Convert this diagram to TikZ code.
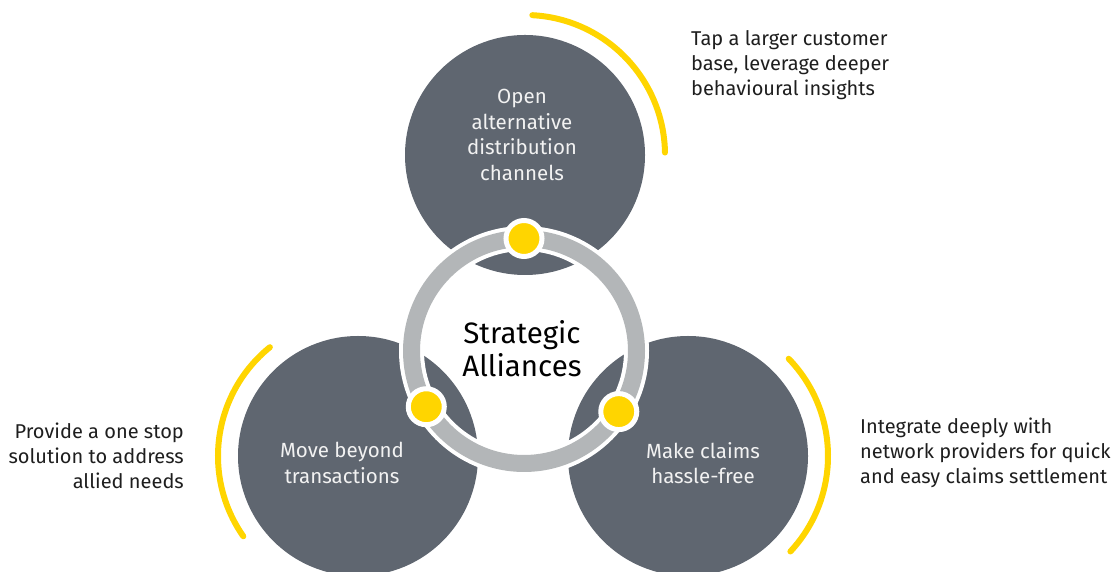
\documentclass[tikz,border=0pt]{standalone}
\usepackage{fontspec}
\setmainfont{Fira Sans}
\usetikzlibrary{calc}
\definecolor{ckgray}{HTML}{5F6670}
\definecolor{ringgray}{HTML}{B3B6B8}
\definecolor{eyyellow}{HTML}{FFD500}
\definecolor{txtdark}{HTML}{1E1E1E}
\definecolor{txtlight}{HTML}{F2F2F2}
\tikzset{
  bigcirc/.style={circle, fill=ckgray, minimum size=240pt, inner sep=0pt, draw=none},
  intext/.style={text=txtlight, align=center, font=\fontsize{20.5}{25.5}\selectfont, inner sep=0pt},
  outtext/.style={text=txtdark, font=\fontsize{20}{25}\selectfont, inner sep=0pt},
  yarc/.style={draw=eyyellow, line width=6pt, line cap=round},
  ydot/.style={circle, fill=eyyellow, draw=white, line width=5pt, minimum size=36pt, inner sep=0pt},
}
\begin{document}
\begin{tikzpicture}[x=1pt,y=1pt]
\useasboundingbox (0,0) rectangle (1116,572);
% big circles
\node[bigcirc] (open) at (525,417) {};
\node[bigcirc] (move) at (358,116) {};
\node[bigcirc] (claims) at (688,116) {};
% yellow arcs
\draw[yarc] (525,417) ++(87:140) arc[start angle=87, end angle=1, radius=140];
\draw[yarc] (358,116) ++(129:140) arc[start angle=129, end angle=215, radius=140];
\draw[yarc] (688,116) ++(44:140) arc[start angle=44, end angle=-43, radius=140];
% ring
\coordinate (rc) at (524,221);
\draw[white, line width=25pt] (rc) circle[radius=112.5];
\draw[ringgray, line width=17pt] (rc) circle[radius=112.5];
% dots
\node[ydot] (dtop) at ($(rc)+(90:112.5)$) {};
\node[ydot] (dleft) at ($(rc)+(209.7:112.5)$) {};
\node[ydot] (dright) at ($(rc)+(-32.6:112.5)$) {};
% circle texts
\node[intext] (topt) at (522,437) {Open\\alternative\\distribution\\channels};
\node[intext] (leftt) at (342,109) {Move beyond\\transactions};
\node[intext] (rightt) at (703,109) {Make claims\\hassle-free};
\node[text=black, align=center, font=\fontsize{29.5}{33}\selectfont, inner sep=0pt] (center) at (522,223.5) {Strategic\\Alliances};
% outer texts
\node[outtext, anchor=west, align=left] (tr) at (691,507) {Tap a larger customer\\base, leverage deeper\\behavioural insights};
\node[outtext, anchor=east, align=right] (bl) at (184,116) {Provide a one stop\\solution to address\\allied needs};
\node[outtext, anchor=west, align=left] (br) at (860,119) {Integrate deeply with\\network providers for quick\\and easy claims settlement};
\end{tikzpicture}
\end{document}
